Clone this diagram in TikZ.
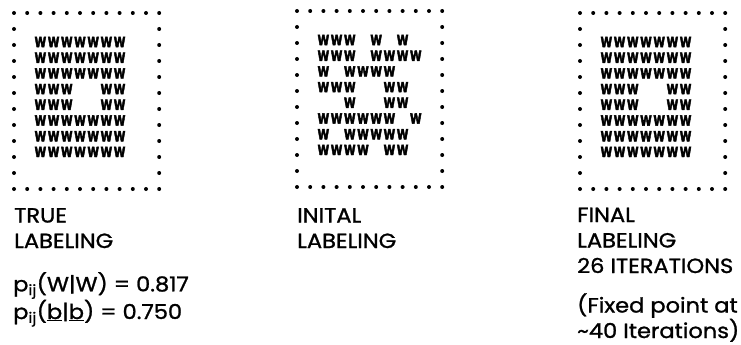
\documentclass[tikz,border=0pt]{standalone}
\usepackage{fontspec}
\setmainfont{Poppins}[FakeStretch=1.1, FakeBold=1.2]
\newfontfamily\wfont[FakeStretch=0.75, FakeBold=3]{DejaVu Sans}

\tikzset{
  randpunkt/.style={fill=black, draw=none},
  wzeichen/.style={inner sep=0pt, font=\wfont\bfseries\fontsize{14}{14}\selectfont},
  etikett/.style={anchor=base west, inner sep=0pt, align=left,
    font=\fontsize{20.5}{25.5}\selectfont}
}

\begin{document}
\begin{tikzpicture}[x=1pt, y=-1pt]
  \useasboundingbox (0,0) rectangle (741,345);

  % Punktrahmen der drei Gitter
  \foreach \bx/\by [count=\k] in {14/13, 297/11, 580/13} {
    \foreach \i in {0,...,11} {
      \fill[randpunkt] (\bx+13.2*\i,\by) circle (2);
      \fill[randpunkt] (\bx+13.2*\i,\by+176) circle (2);
    }
    \foreach \j in {1,...,10} {
      \fill[randpunkt] (\bx,\by+16*\j) circle (2);
      \fill[randpunkt] (\bx+145.2,\by+16*\j) circle (2);
    }
  }

  % wahre Markierung
  \foreach \zeile [count=\r] in {{1,2,3,4,5,6,7},{1,2,3,4,5,6,7},{1,2,3,4,5,6,7},
      {1,2,3,6,7},{1,2,3,6,7},{1,2,3,4,5,6,7},{1,2,3,4,5,6,7},{1,2,3,4,5,6,7}}
    \foreach \c in \zeile
      \node[wzeichen] (wa-\r-\c) at (14+13.2*\c+13.2,13+29+15.7*\r-15.7) {W};

  % Anfangsmarkierung
  \foreach \zeile [count=\r] in {{1,2,3,5,7},{1,2,3,5,6,7,8},{1,3,4,5,6},
      {1,2,3,6,7},{3,6,7},{1,2,3,4,5,6,8},{1,3,4,5,6,7},{1,2,3,4,6,7}}
    \foreach \c in \zeile
      \node[wzeichen] (wb-\r-\c) at (297+13.2*\c+13.2,11+29+15.7*\r-15.7) {W};

  % Endmarkierung
  \foreach \zeile [count=\r] in {{1,2,3,4,5,6,7},{1,2,3,4,5,6,7},{1,2,3,4,5,6,7},
      {1,2,3,6,7},{1,2,3,6,7},{1,2,3,4,5,6,7},{1,2,3,4,5,6,7},{1,2,3,4,5,6,7}}
    \foreach \c in \zeile
      \node[wzeichen] (wc-\r-\c) at (580+13.2*\c+13.2,13+29+15.7*\r-15.7) {W};

  % Beschriftungen (Anker = Grundlinie der letzten Zeile)
  \node[etikett] (wahr) at (14,248) {TRUE\\LABELING};
  \node[etikett] (wkeit) at (13,319)
    {p\textsubscript{ij}(W|W) = 0.817\\p\textsubscript{ij}(\underline{b}|\underline{b}) = 0.750};
  \node[etikett] (anfang) at (297,248) {INITAL\\LABELING};
  \node[etikett] (ende) at (577,273) {FINAL\\LABELING\\26 ITERATIONS};
  \node[etikett] (fixpunkt) at (577,338) {(Fixed point at\\\textasciitilde 40 Iterations)};
\end{tikzpicture}
\end{document}
